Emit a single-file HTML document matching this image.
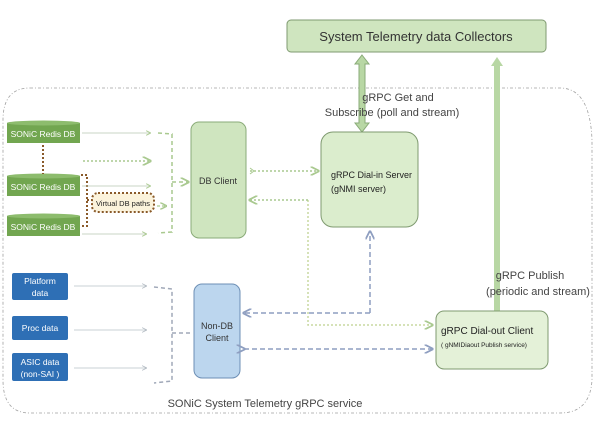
<!DOCTYPE html>
<html><head><meta charset="utf-8"><style>
html,body{margin:0;padding:0;background:#fff;}
svg{display:block;font-family:"Liberation Sans",sans-serif;}
</style></head><body>
<svg width="600" height="433" viewBox="0 0 600 433" xmlns="http://www.w3.org/2000/svg">
<defs>
<marker id="ag" markerWidth="6" markerHeight="6" refX="5" refY="3" orient="auto"><path d="M0,0 L6,3 L0,6" fill="none" stroke="#a9c98f" stroke-width="1.2"/></marker>
<marker id="ab" markerWidth="6" markerHeight="6" refX="5" refY="3" orient="auto"><path d="M0,0 L6,3 L0,6" fill="none" stroke="#8e9ec0" stroke-width="1.2"/></marker>
<marker id="agr" markerWidth="6" markerHeight="6" refX="5" refY="3" orient="auto"><path d="M0,0 L6,3 L0,6" fill="none" stroke="#b0b8c0" stroke-width="1"/></marker>
</defs>
<path d="M30,88 L560,88 Q590,88 592,140 L592,380 Q590,413 560,413 L30,413 Q3,413 3,380 L3,120 Q3,88 30,88 Z" fill="none" stroke="#a0a0a0" stroke-width="0.8" stroke-dasharray="3,2,1,2"/>
<rect x="287" y="20" width="259" height="32" rx="4" fill="#cfe5bf" stroke="#7f9a70"/>
<text x="416" y="41" font-size="13" text-anchor="middle" fill="#333">System Telemetry data Collectors</text>
<path d="M362,55 L369,64 L365,64 L365,123 L369,123 L362,132 L355,123 L359,123 L359,64 L355,64 Z" fill="#b8d7a4" stroke="#8aab78"/>
<text x="398" y="101" font-size="11" text-anchor="middle" fill="#444">gRPC Get  and</text>
<text x="392" y="116" font-size="11" text-anchor="middle" fill="#444">Subscribe (poll and stream)</text>
<rect x="494" y="65" width="6" height="246" fill="#b8d7a4"/>
<path d="M491,66 L497,57 L503,66 Z" fill="#b8d7a4"/>
<text x="530" y="279" font-size="11" text-anchor="middle" fill="#444">gRPC Publish</text>
<text x="538" y="295" font-size="11" text-anchor="middle" fill="#444">(periodic and stream)</text>
<rect x="321" y="132" width="97" height="95" rx="12" fill="#dbedcd" stroke="#7f9a70"/>
<text x="331" y="178" font-size="9" fill="#222">gRPC Dial-in Server</text>
<text x="331" y="192" font-size="9" fill="#222">(gNMI server)</text>
<rect x="436" y="311" width="112" height="58" rx="8" fill="#e4f1d8" stroke="#7f9a70"/>
<text x="441" y="334" font-size="10" fill="#222">gRPC Dial-out Client</text>
<text x="441" y="347" font-size="6.5" fill="#222">( gNMIDiaout Publish service)</text>
<rect x="191" y="122" width="55" height="116" rx="8" fill="#cfe5bf" stroke="#8aab78"/>
<text x="218" y="184" font-size="9" text-anchor="middle" fill="#333">DB Client</text>
<rect x="194" y="284" width="46" height="94" rx="8" fill="#bcd6ee" stroke="#6d8fb5"/>
<text x="217" y="329" font-size="9" text-anchor="middle" fill="#333">Non-DB</text>
<text x="217" y="341" font-size="9" text-anchor="middle" fill="#333">Client</text>
<g font-size="8.5" fill="#fff" text-anchor="middle">
<rect x="7" y="123" width="73" height="20" fill="#72a650"/><ellipse cx="43.5" cy="123" rx="36.5" ry="2.5" fill="#8dbc6d"/><text x="43" y="137">SONiC Redis DB</text>
<rect x="7" y="176" width="73" height="20" fill="#72a650"/><ellipse cx="43.5" cy="176" rx="36.5" ry="2.5" fill="#8dbc6d"/><text x="43" y="190">SONiC Redis DB</text>
<rect x="7" y="216" width="73" height="20" fill="#72a650"/><ellipse cx="43.5" cy="216" rx="36.5" ry="2.5" fill="#8dbc6d"/><text x="43" y="230">SONiC Redis DB</text>
</g>
<g stroke="#8a5a2a" stroke-width="2" stroke-dasharray="2,2" fill="none">
<path d="M43,145 L43,174"/>
<path d="M81,175 L87,175 L87,226 L81,226"/>
<path d="M87,200 L92,200"/>
</g>
<rect x="92" y="193" width="62" height="19" rx="6" fill="#fbf3dc" stroke="#8a5a2a" stroke-width="2" stroke-dasharray="2,2"/>
<text x="123" y="206" font-size="7.5" text-anchor="middle" fill="#222">Virtual DB paths</text>
<g stroke="#b8c8b0" stroke-width="0.8" fill="none" marker-end="url(#ag)">
<path d="M82,133 L150,133"/><path d="M82,186 L150,186"/><path d="M82,234 L146,234"/>
</g>
<path d="M83,161 L150,161" stroke="#a9c98f" stroke-width="1.5" stroke-dasharray="2,2" marker-end="url(#ag)"/>
<path d="M157,206 L166,206" stroke="#a9c98f" stroke-width="1.2" stroke-dasharray="3,2" marker-end="url(#ag)"/>
<path d="M158,133 L172,134 L172,232 L158,233" stroke="#a9c98f" stroke-width="1.5" stroke-dasharray="4,3" fill="none"/>
<path d="M172,182 L188,182" stroke="#a9c98f" stroke-width="1.5" stroke-dasharray="4,3" marker-end="url(#ag)"/>
<path d="M250,171 L318,171" stroke="#a9c98f" stroke-width="1.5" stroke-dasharray="2,2" marker-end="url(#ag)"/>
<path d="M254,171 L250,168 M254,171 L250,174" stroke="#a9c98f"/>
<path d="M308,200 L308,325 L432,325" stroke="#c8d8a0" stroke-width="1.5" stroke-dasharray="2,2" fill="none" marker-end="url(#ag)"/>
<path d="M308,200 L250,200" stroke="#a9c98f" stroke-width="1.5" stroke-dasharray="2,2" fill="none" marker-end="url(#ag)"/>
<path d="M370,313 L370,232" stroke="#8e9ec0" stroke-width="1.5" stroke-dasharray="5,3" marker-end="url(#ab)"/>
<path d="M370,313 L244,313" stroke="#8e9ec0" stroke-width="1.5" stroke-dasharray="5,3" marker-end="url(#ab)"/>
<path d="M244,349 L432,349" stroke="#8e9ec0" stroke-width="1.5" stroke-dasharray="5,3" marker-end="url(#ab)" marker-start="url(#ab)"/>
<g font-size="8.5" fill="#fff" text-anchor="middle">
<rect x="12" y="273" width="56" height="27" rx="2" fill="#2e6fb5"/><text x="40" y="284">Platform</text><text x="40" y="296">data</text>
<rect x="12" y="316" width="56" height="24" rx="2" fill="#2e6fb5"/><text x="40" y="331">Proc data</text>
<rect x="12" y="353" width="56" height="28" rx="2" fill="#2e6fb5"/><text x="40" y="365">ASIC data</text><text x="40" y="377">(non-SAI )</text>
</g>
<g stroke="#b8c0c8" stroke-width="0.8" fill="none" marker-end="url(#agr)">
<path d="M74,286 L146,286"/><path d="M74,330 L146,330"/><path d="M74,368 L146,368"/>
</g>
<path d="M154,287 L172,289 L172,381 L154,383" stroke="#a0a8b8" stroke-width="1.5" stroke-dasharray="4,3" fill="none"/>
<path d="M172,333 L190,333" stroke="#a0a8b8" stroke-width="1.5" stroke-dasharray="4,3"/>
<text x="265" y="407" font-size="11" text-anchor="middle" fill="#444">SONiC System Telemetry gRPC service</text>
</svg>
</body></html>
